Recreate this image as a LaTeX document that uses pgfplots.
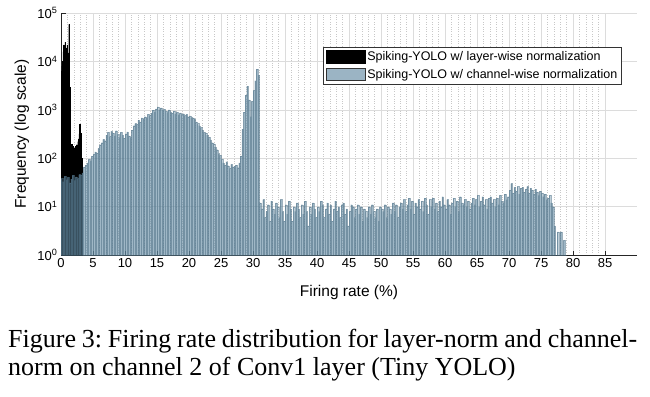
\documentclass[border=0pt]{standalone}
\usepackage{pgfplots}
\pgfplotsset{compat=1.18}
\usepackage{fontspec}
\setmainfont{Liberation Sans}
\newfontfamily\capfont{Liberation Serif}
\definecolor{bluebase}{RGB}{95,135,160}
\definecolor{majgrid}{RGB}{220,220,220}
\definecolor{mingrid}{RGB}{200,200,200}
\begin{document}
\frenchspacing
\begin{tikzpicture}
\path[use as bounding box] (0pt,0pt) rectangle (650pt,-396pt);
\begin{axis}[
  at={(61pt,-255pt)}, anchor=south west,
  width=576pt, height=242pt, scale only axis,
  ymode=log, log basis y=10,
  xmin=0, xmax=90, ymin=1, ymax=100000,
  xtick={0,5,...,85},
  minor x tick num=4,
  ytick={1,10,100,1000,10000,100000},
  yticklabels={10\textsuperscript{0},10\textsuperscript{1},10\textsuperscript{2},10\textsuperscript{3},10\textsuperscript{4},10\textsuperscript{5}},
  axis x line*=bottom, axis y line*=left,
  axis line style={-, black!85, line width=0.6pt},
  tick align=inside,
  major tick length=4.5pt, minor tick length=2.5pt,
  tick style={black!85, line width=0.5pt},
  minor x tick style={draw=none},
  xmajorgrids, ymajorgrids, xminorgrids, yminorgrids,
  major grid style={majgrid, line width=0.6pt},
  minor grid style={mingrid, dotted, line width=0.4pt},
  /pgf/number format/assume math mode=true,
  tick label style={font=\fontsize{13}{15}\selectfont},
  label style={font=\fontsize{15.5}{18}\selectfont},
  xlabel={Firing rate (\%)},
  ylabel={Frequency (log scale)},
  xlabel style={at={(axis description cs:0.5,-0.153)}, anchor=center},
  ylabel style={at={(axis description cs:-0.068,0.5)}, anchor=center},
  legend style={at={(axis description cs:0.9734,0.8607)}, anchor=north east,
    draw=black!80, line width=0.6pt, fill=white,
    font=\fontsize{12.5}{14}\selectfont, row sep=3pt,
    inner xsep=2pt, inner ysep=2.5pt},
  legend cell align=left,
]
\addplot[ybar interval, fill=black, draw=black, line width=0.2pt,
  legend image code/.code={\draw[fill=black, draw=black, line width=0.6pt] (0pt,-6.3pt) rectangle (39pt,6.3pt);}]
coordinates {
(0,6300)(0.1,8000)(0.2,10000)(0.3,16000)(0.4,22000)(0.5,20000)(0.6,25000)(0.7,19000)(0.8,18000)(0.9,22000)
(1.0,15000)(1.1,10000)(1.2,58000)(1.3,3000)(1.4,200)(1.5,160)(1.6,195)(1.7,125)(1.8,180)(1.9,105)
(2.0,165)(2.1,130)(2.2,175)(2.3,120)(2.4,190)(2.5,155)(2.6,220)(2.7,250)(2.8,320)(2.9,500)
(3.0,330)(3.1,200)(3.2,100)(3.3,100)
};
\addlegendentry{Spiking-YOLO w/ layer-wise normalization}
\addplot[ybar interval, fill=bluebase, fill opacity=0.6, draw=bluebase!85!black, draw opacity=0.55, line width=0.15pt,
  legend image code/.code={\draw[fill=bluebase, fill opacity=0.62, draw=black!80, draw opacity=1, line width=0.6pt] (0pt,-6.3pt) rectangle (39pt,6.3pt);}]
coordinates {
(0,38)(0.25,33)(0.5,42)(0.75,36)
(1,40)(1.25,31)(1.5,37)(1.75,44)
(2,35)(2.25,41)(2.5,38)(2.75,46)
(3,45)(3.25,50)(3.5,66)(3.75,72)
(4,80)(4.25,95)(4.5,88)(4.75,110)
(5,120)(5.25,135)(5.5,128)(5.75,160)
(6,190)(6.25,210)(6.5,245)(6.75,230)
(7,300)(7.25,340)(7.5,280)(7.75,360)
(8,330)(8.25,290)(8.5,370)(8.75,310)
(9,270)(9.25,340)(9.5,300)(9.75,260)
(10,320)(10.25,350)(10.5,290)(10.75,270)
(11,380)(11.25,470)(11.5,520)(11.75,500)
(12,610)(12.25,560)(12.5,680)(12.75,640)
(13,720)(13.25,690)(13.5,800)(13.75,760)
(14,850)(14.25,980)(14.5,900)(14.75,1050)
(15,1150)(15.25,1000)(15.5,1100)(15.75,980)
(16,1020)(16.25,950)(16.5,880)(16.75,1000)
(17,900)(17.25,850)(17.5,940)(17.75,820)
(18,880)(18.25,790)(18.5,860)(18.75,800)
(19,830)(19.25,760)(19.5,800)(19.75,720)
(20,750)(20.25,700)(20.5,680)(20.75,640)
(21,560)(21.25,520)(21.5,470)(21.75,430)
(22,380)(22.25,340)(22.5,330)(22.75,300)
(23,270)(23.25,240)(23.5,210)(23.75,200)
(24,170)(24.25,150)(24.5,125)(24.75,115)
(25,95)(25.25,80)(25.5,72)(25.75,85)
(26,70)(26.25,62)(26.5,75)(26.75,66)
(27,68)(27.25,72)(27.5,64)(27.75,80)
(28,110)(28.25,400)(28.5,900)(28.75,2000)
(29,3100)(29.25,1600)(29.5,720)(29.75,1500)
(30,2500)(30.25,4000)(30.5,6900)(30.75,5200)
(31,12)(31.25,9)(31.5,14)(31.75,6)
(32,8)(32.25,11)(32.5,5)(32.75,13)
(33,9)(33.25,7)(33.5,12)(33.75,10)
(34,6)(34.25,14)(34.5,8)(34.75,5)
(35,11)(35.25,7)(35.5,13)(35.75,9)
(36,5)(36.25,10)(36.5,8)(36.75,12)
(37,9)(37.25,6)(37.5,11)(37.75,7)
(38,13)(38.25,8)(38.5,4)(38.75,10)
(39,7)(39.25,12)(39.5,9)(39.75,6)
(40,10)(40.25,8)(40.5,13)(40.75,11)
(41,6)(41.25,9)(41.5,12)(41.75,7)
(42,11)(42.25,5)(42.5,9)(42.75,13)
(43,8)(43.25,10)(43.5,6)(43.75,11)
(44,12)(44.25,7)(44.5,9)(44.75,4)
(45,8)(45.25,11)(45.5,10)(45.75,6)
(46,9)(46.25,11)(46.5,7)(46.75,10)
(47,5)(47.25,9)(47.5,8)(47.75,6)
(48,10)(48.25,7)(48.5,11)(48.75,8)
(49,6)(49.25,9)(49.5,5)(49.75,10)
(50,9)(50.25,8)(50.5,11)(50.75,6)
(51,10)(51.25,9)(51.5,7)(51.75,12)
(52,8)(52.25,11)(52.5,6)(52.75,10)
(53,12)(53.25,9)(53.5,14)(53.75,8)
(54,11)(54.25,15)(54.5,9)(54.75,13)
(55,7)(55.25,12)(55.5,10)(55.75,14)
(56,9)(56.25,13)(56.5,8)(56.75,15)
(57,11)(57.25,7)(57.5,14)(57.75,10)
(58,15)(58.25,9)(58.5,12)(58.75,8)
(59,13)(59.25,10)(59.5,16)(59.75,11)
(60,9)(60.25,14)(60.5,11)(60.75,7)
(61,12)(61.25,15)(61.5,10)(61.75,13)
(62,8)(62.25,16)(62.5,12)(62.75,11)
(63,14)(63.25,10)(63.5,13)(63.75,9)
(64,12)(64.25,15)(64.5,11)(64.75,14)
(65,17)(65.25,10)(65.5,13)(65.75,16)
(66,11)(66.25,14)(66.5,9)(66.75,15)
(67,16)(67.25,12)(67.5,14)(67.75,10)
(68,15)(68.25,11)(68.5,17)(68.75,13)
(69,12)(69.25,18)(69.5,14)(69.75,16)
(70,22)(70.25,30)(70.5,19)(70.75,25)
(71,21)(71.25,26)(71.5,18)(71.75,24)
(72,25)(72.25,20)(72.5,23)(72.75,26)
(73,19)(73.25,24)(73.5,22)(73.75,18)
(74,23)(74.25,20)(74.5,17)(74.75,21)
(75,19)(75.25,16)(75.5,18)(75.75,14)
(76,15)(76.25,17)(76.5,12)(76.75,10)
(77,4)(77.25,1)(77.5,3)(77.75,1)
(78,3)(78.25,1)(78.5,2)(78.75,1)
(79,1)
};
\addlegendentry{Spiking-YOLO w/ channel-wise normalization}
\end{axis}
\node[anchor=base west, inner sep=0pt, font=\capfont\fontsize{26}{30}\selectfont] at (8pt,-347pt)
  {\makebox[629pt][s]{Figure 3: Firing rate distribution for layer-norm and channel-}};
\node[anchor=base west, inner sep=0pt, font=\capfont\fontsize{26}{30}\selectfont] at (8pt,-375pt)
  {norm on channel 2 of Conv1 layer (Tiny YOLO)};
\end{tikzpicture}
\end{document}
